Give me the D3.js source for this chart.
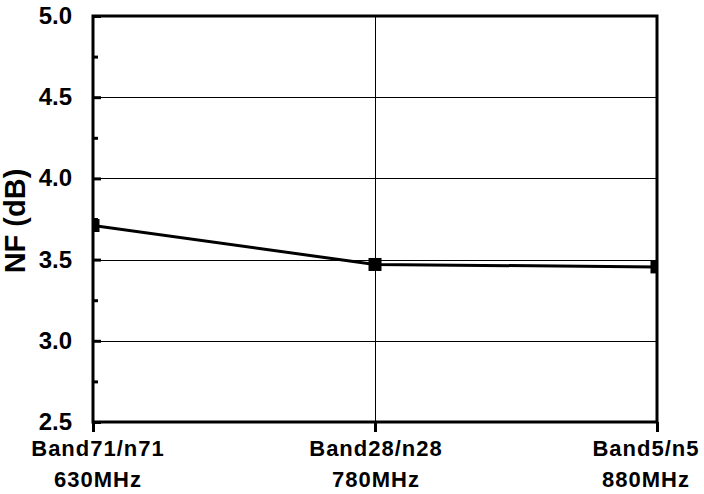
<!DOCTYPE html>
<html>
<head>
<meta charset="utf-8">
<script src="https://cdn.jsdelivr.net/npm/d3@7"></script>
<style>
  html, body { margin: 0; padding: 0; background: #fff; }
  svg { display: block; }
  text { font-family: Arial, "Liberation Sans", sans-serif; font-weight: bold; fill: #000; }
</style>
</head>
<body>
<svg id="chart" width="704" height="494"></svg>
<script>
const categories = ["Band71/n71", "Band28/n28", "Band5/n5"];
const frequencies = ["630MHz", "780MHz", "880MHz"];
const nfValues = [3.71, 3.47, 3.455];
const yTicks = [2.5, 3.0, 3.5, 4.0, 4.5, 5.0];
const yMinorTicks = [2.75, 3.25, 3.75, 4.25, 4.75];
const yTitle = "NF (dB)";

const W = 704, H = 494;
const pLeft = 93, pRight = 657, pTop = 16, pBottom = 422;

const svg = d3.select("#chart");

const x = d3.scalePoint().domain(categories).range([pLeft, pRight]);
const y = d3.scaleLinear().domain([2.5, 5.0]).range([pBottom, pTop]);

svg.append("defs").append("clipPath").attr("id", "plotClip")
  .append("rect").attr("x", pLeft).attr("y", pTop).attr("width", pRight - pLeft).attr("height", pBottom - pTop);

// horizontal gridlines
svg.append("g").selectAll("line").data(yTicks.filter(d => d > 2.5 && d < 5.0)).join("line")
  .attr("x1", pLeft).attr("x2", pRight)
  .attr("y1", d => Math.round(y(d)) + 0.5).attr("y2", d => Math.round(y(d)) + 0.5)
  .attr("stroke", "#000").attr("stroke-width", 1);

// vertical gridlines (inner categories)
svg.append("g").selectAll("line").data(categories.slice(1, -1)).join("line")
  .attr("x1", d => Math.round(x(d)) + 0.5).attr("x2", d => Math.round(x(d)) + 0.5)
  .attr("y1", pTop).attr("y2", pBottom)
  .attr("stroke", "#000").attr("stroke-width", 1);

// y axis (left) with inward ticks
const yAxis = d3.axisRight(y).tickValues(yTicks).tickSize(8).tickFormat("");
const gy = svg.append("g").attr("transform", `translate(${pLeft},0)`).call(yAxis);
gy.select(".domain").remove();
gy.selectAll(".tick line").attr("stroke", "#000").attr("stroke-width", 3);

const yMinor = d3.axisRight(y).tickValues(yMinorTicks).tickSize(5).tickFormat("");
const gym = svg.append("g").attr("transform", `translate(${pLeft},0)`).call(yMinor);
gym.select(".domain").remove();
gym.selectAll(".tick line").attr("stroke", "#000").attr("stroke-width", 3);

// y tick labels
svg.append("g").selectAll("text").data(yTicks).join("text")
  .attr("x", 72).attr("y", d => y(d) + 8)
  .attr("text-anchor", "end").attr("font-size", 24)
  .text(d => d.toFixed(1));

// x axis ticks (outward)
const xAxis = d3.axisBottom(x).tickSize(10).tickFormat("");
const gx = svg.append("g").attr("transform", `translate(0,${pBottom})`).call(xAxis);
gx.select(".domain").remove();
gx.selectAll(".tick line").attr("stroke", "#000").attr("stroke-width", 3);

// frame
svg.append("rect").attr("x", pLeft).attr("y", pTop).attr("width", pRight - pLeft).attr("height", pBottom - pTop)
  .attr("fill", "none").attr("stroke", "#000").attr("stroke-width", 3);

// data line + markers
const plot = svg.append("g").attr("clip-path", "url(#plotClip)");
const line = d3.line().x((d, i) => x(categories[i])).y(d => y(d));
plot.append("path").datum(nfValues).attr("d", line)
  .attr("fill", "none").attr("stroke", "#000").attr("stroke-width", 3);
plot.selectAll("rect.m").data(nfValues).join("rect").attr("class", "m")
  .attr("x", (d, i) => x(categories[i]) - 6.5).attr("y", d => y(d) - 6.5)
  .attr("width", 13).attr("height", 13).attr("fill", "#000");

// category labels
const n = categories.length;
const labelShift = i => (i === 0 ? 5 : i === n - 1 ? -11 : 1);
const lab = svg.append("g").selectAll("g").data(categories).join("g")
  .attr("transform", (d, i) => `translate(${x(d) + labelShift(i)},0)`);
lab.append("text").attr("y", 456).attr("text-anchor", "middle").attr("font-size", 22)
  .attr("letter-spacing", 1).text(d => d);
lab.append("text").attr("y", 487).attr("text-anchor", "middle").attr("font-size", 22)
  .attr("letter-spacing", 1).text((d, i) => frequencies[i]);

// y title
svg.append("text").attr("transform", `translate(25,221) rotate(-90)`)
  .attr("text-anchor", "middle").attr("font-size", 29).text(yTitle);
</script>
</body>
</html>
